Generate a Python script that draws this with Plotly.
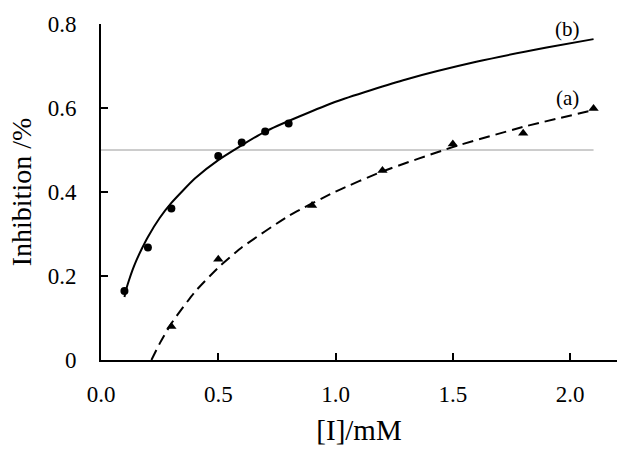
import plotly.graph_objects as go

# measured points
xb = [0.1, 0.2, 0.3, 0.5, 0.6, 0.7, 0.8]
yb = [0.164, 0.268, 0.361, 0.486, 0.518, 0.544, 0.563]
xa = [0.3, 0.5, 0.9, 1.2, 1.5, 1.8, 2.1]
ya = [0.080, 0.240, 0.368, 0.451, 0.514, 0.540, 0.599]

# fitted curves
cxb = [0.1, 0.11, 0.12, 0.135, 0.15, 0.175, 0.2, 0.25, 0.3, 0.4, 0.5, 0.7, 1.0, 1.3, 1.6, 1.9, 2.1]
cyb = [0.150, 0.173, 0.191, 0.215, 0.236, 0.266, 0.293, 0.338, 0.374, 0.432, 0.476, 0.544, 0.615,
       0.668, 0.710, 0.744, 0.764]
cxa = [0.215, 0.25, 0.3, 0.4, 0.5, 0.6, 0.8, 1.0, 1.2, 1.5, 1.8, 2.1]
cya = [0.0, 0.039, 0.087, 0.162, 0.220, 0.268, 0.343, 0.401, 0.449, 0.507, 0.555, 0.595]

ref_x = [0.0, 2.1]
ref_y = [0.5, 0.5]

xticks = [0.0, 0.5, 1.0, 1.5, 2.0]
xticklabels = ["0.0", "0.5", "1.0", "1.5", "2.0"]
yticks = [0, 0.2, 0.4, 0.6, 0.8]
yticklabels = ["0", "0.2", "0.4", "0.6", "0.8"]

FONT = "Liberation Serif"

fig = go.Figure()
fig.add_trace(go.Scatter(x=ref_x, y=ref_y, mode="lines",
                         line=dict(color="#9a9a9a", width=1), showlegend=False, hoverinfo="skip"))
fig.add_trace(go.Scatter(x=cxb, y=cyb, mode="lines",
                         line=dict(color="black", width=2, shape="spline", smoothing=0.5),
                         showlegend=False))
fig.add_trace(go.Scatter(x=cxa, y=cya, mode="lines",
                         line=dict(color="black", width=2, dash="11px,6px", shape="spline", smoothing=0.5),
                         showlegend=False))
fig.add_trace(go.Scatter(x=xb, y=yb, mode="markers",
                         marker=dict(symbol="circle", size=8, color="black"), showlegend=False))
fig.add_trace(go.Scatter(x=xa, y=ya, mode="markers",
                         marker=dict(symbol="triangle-up", size=9, color="black"), showlegend=False))

fig.add_annotation(x=1.99, y=0.788, text="(b)", showarrow=False, xanchor="center", yanchor="middle",
                   font=dict(family=FONT, size=21, color="black"))
fig.add_annotation(x=1.99, y=0.623, text="(a)", showarrow=False, xanchor="center", yanchor="middle",
                   font=dict(family=FONT, size=21, color="black"))

fig.update_layout(
    width=630, height=453,
    margin=dict(l=101, r=13, t=16, b=90),
    paper_bgcolor="white", plot_bgcolor="white",
    font=dict(family=FONT, size=23, color="black"),
    xaxis=dict(range=[0, 2.2], tickvals=xticks, ticktext=xticklabels,
               tickfont=dict(family=FONT, size=23),
               showgrid=False, zeroline=False, showline=True, linecolor="black", linewidth=2,
               ticks="inside", ticklen=7, tickwidth=2, tickcolor="black", ticklabelstandoff=12,
               title=dict(text="[I]/mM", font=dict(family=FONT, size=29), standoff=14)),
    yaxis=dict(range=[0, 0.8], tickvals=yticks, ticktext=yticklabels,
               tickfont=dict(family=FONT, size=23),
               showgrid=False, zeroline=False, showline=True, linecolor="black", linewidth=2,
               ticks="inside", ticklen=7, tickwidth=2, tickcolor="black", ticklabelstandoff=18,
               title=dict(text="Inhibition /%", font=dict(family=FONT, size=28), standoff=8)),
)

fig.write_html("out.html")
